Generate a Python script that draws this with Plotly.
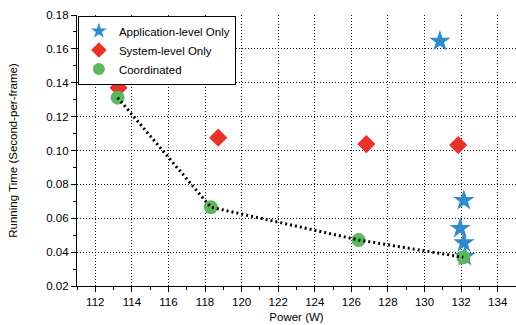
import plotly.graph_objects as go

# Data
app_power = [130.84, 132.15, 131.95, 132.15, 132.2]
app_time = [0.1645, 0.0705, 0.0540, 0.0455, 0.0375]

sys_power = [113.27, 118.72, 126.82, 131.84]
sys_time = [0.1370, 0.1076, 0.1038, 0.1032]

coord_power = [113.22, 118.32, 126.39, 132.12]
coord_time = [0.1312, 0.0665, 0.0472, 0.0370]

x_ticks = list(range(112, 136, 2))
y_ticks = [0.02, 0.04, 0.06, 0.08, 0.10, 0.12, 0.14, 0.16, 0.18]

BLUE = "#2e8bcc"
RED = "#e8322a"
GREEN = "#5cb85c"
FONT = "Liberation Sans, Arial, sans-serif"

fig = go.Figure()
fig.add_trace(go.Scatter(
    x=app_power, y=app_time, mode="markers", name="Application-level Only",
    marker=dict(symbol="star", size=16, color=BLUE, line=dict(width=0)),
))
fig.add_trace(go.Scatter(
    x=sys_power, y=sys_time, mode="markers", name="System-level Only",
    marker=dict(symbol="diamond", size=14, color=RED, line=dict(width=0)),
))
fig.add_trace(go.Scatter(
    x=coord_power, y=coord_time, mode="markers", name="Coordinated",
    marker=dict(symbol="circle", size=14, color=GREEN, line=dict(width=0)),
))
fig.add_trace(go.Scatter(
    x=coord_power, y=coord_time, mode="lines", showlegend=False,
    line=dict(color="black", width=3, dash="2px,3px"), hoverinfo="skip",
))

fig.update_layout(
    width=516, height=325,
    margin=dict(l=77, r=0, t=15, b=39),
    paper_bgcolor="white", plot_bgcolor="white",
    font=dict(family=FONT, size=11, color="black"),
    showlegend=True,
    legend=dict(
        x=0.002, y=0.998, xanchor="left", yanchor="top",
        bordercolor="black", borderwidth=1, bgcolor="white",
        font=dict(size=11.5), itemsizing="constant", tracegroupgap=0,
        itemwidth=30,
    ),
    xaxis=dict(
        range=[111, 135], tickvals=x_ticks, ticktext=[str(v) for v in x_ticks],
        showline=True, linecolor="black", linewidth=1.2,
        ticks="outside", ticklen=5, tickcolor="black",
        minor=dict(dtick=1, tick0=111, ticks="outside", ticklen=3, tickcolor="black", showgrid=False),
        showgrid=True, gridcolor="#111", gridwidth=1, griddash="1px,2px",
        zeroline=False, mirror=False, automargin=False,
        title=dict(text="Power (W)", font=dict(size=11.5), standoff=6),
        tickfont=dict(size=11.5),
    ),
    yaxis=dict(
        range=[0.02, 0.18], tickvals=y_ticks, ticktext=[f"{v:.2f}" for v in y_ticks],
        showline=True, linecolor="black", linewidth=1.2,
        ticks="outside", ticklen=5, tickcolor="black",
        minor=dict(dtick=0.01, tick0=0.02, ticks="outside", ticklen=3, tickcolor="black", showgrid=False),
        showgrid=True, gridcolor="#111", gridwidth=1, griddash="1px,2px",
        zeroline=False, mirror=False, automargin=False,
        title=dict(text="Running Time (Second-per-frame)", font=dict(size=11.5), standoff=26),
        tickfont=dict(size=11.5),
    ),
)

fig.write_html(
    "out.html",
    config={"displayModeBar": False},
    post_script="document.body.style.margin='0';document.body.style.padding='0';",
)
